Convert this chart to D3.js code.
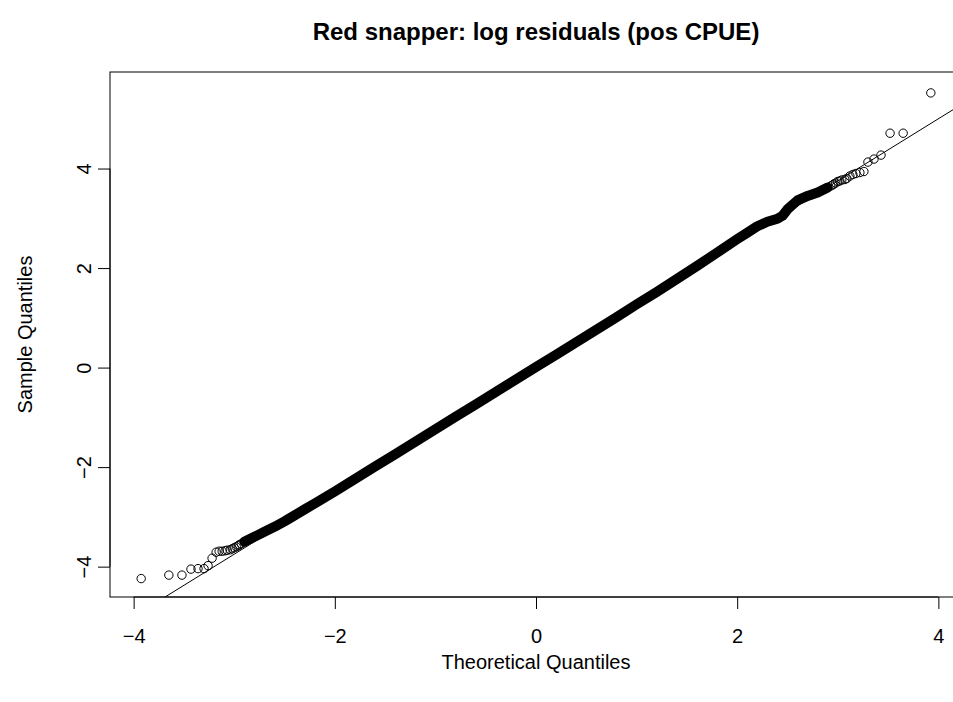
<!DOCTYPE html>
<html>
<head>
<meta charset="utf-8">
<title>Red snapper QQ plot</title>
<style>
    body { margin: 0; background: #fff; }
    svg { font-family: "Liberation Sans", Arial, sans-serif; display: block; }
    .tick-label { font-size: 20px; }
    .axis-title { font-size: 20px; }
    .main-title { font-size: 24px; font-weight: bold; }
</style>
</head>
<body>
<div id="chart"></div>
<script src="https://d3js.org/d3.v7.min.js"></script>
<script>
    // theoretical quantiles of the separated tail points, outermost first
    var tailQ = [3.925, 3.65, 3.52, 3.43, 3.36, 3.30, 3.26, 3.22, 3.18, 3.15,
                 3.12, 3.09, 3.07, 3.04, 3.02, 3.00, 2.98, 2.96, 2.95, 2.93];
    // sample quantiles
    var lowTail = [-4.24, -4.17, -4.17, -4.05, -4.04, -4.04, -3.98, -3.83, -3.71, -3.69,
                   -3.69, -3.68, -3.67, -3.66, -3.64, -3.62, -3.60, -3.58, -3.56, -3.54];
    var highTail = [5.52, 4.71, 4.71, 4.27, 4.19, 4.13, 3.94, 3.92, 3.90, 3.88,
                    3.85, 3.80, 3.78, 3.77, 3.75, 3.74, 3.71, 3.69, 3.67, 3.65];

    // dense middle of the plot, where the circles merge into one band
    var bodyQ = [-2.9, -2.8, -2.7, -2.6, -2.5, -2.4, -2.3, -2.2, -2.1, -2.0,
                 -1.8, -1.6, -1.4, -1.2, -1.0, -0.8, -0.6, -0.4, -0.2, 0,
                 0.2, 0.4, 0.6, 0.8, 1.0, 1.2, 1.4, 1.6, 1.8, 2.0,
                 2.1, 2.2, 2.3, 2.4, 2.45, 2.5, 2.6, 2.7, 2.8, 2.9];
    var bodyS = [-3.50, -3.40, -3.30, -3.20, -3.09, -2.97, -2.85, -2.73, -2.61, -2.49,
                 -2.24, -1.99, -1.74, -1.49, -1.24, -0.99, -0.74, -0.49, -0.24, 0.01,
                 0.26, 0.51, 0.76, 1.01, 1.27, 1.52, 1.78, 2.04, 2.31, 2.58,
                 2.71, 2.84, 2.93, 2.99, 3.05, 3.18, 3.36, 3.45, 3.52, 3.62];

    var xTicks = [-4, -2, 0, 2, 4];
    var yTicks = [-4, -2, 0, 2, 4];
    var qqIntercept = 0.0, qqSlope = 1.25;

    var W = 953, H = 702;
    var box = { left: 110, right: 962, top: 72, bottom: 597 };

    var svg = d3.select("#chart").append("svg")
        .attr("width", W)
        .attr("height", H);

    var x = d3.scaleLinear().domain([-4.235, 4.235]).range([box.left, box.right]);
    var y = d3.scaleLinear().domain([-4.61, 5.94]).range([box.bottom, box.top]);

    svg.append("clipPath").attr("id", "plot-clip")
        .append("rect")
        .attr("x", box.left).attr("y", box.top)
        .attr("width", box.right - box.left).attr("height", box.bottom - box.top);

    var plot = svg.append("g").attr("clip-path", "url(#plot-clip)");

    // qqline
    var xd = x.domain();
    plot.append("line")
        .attr("x1", x(xd[0])).attr("y1", y(qqIntercept + qqSlope * xd[0]))
        .attr("x2", x(xd[1])).attr("y2", y(qqIntercept + qqSlope * xd[1]))
        .attr("stroke", "#000").attr("stroke-width", 1);

    // the merged band of circles
    var band = bodyQ.map(function (q, i) { return [q, bodyS[i]]; });
    plot.append("path")
        .datum(band)
        .attr("d", d3.line().x(function (d) { return x(d[0]); }).y(function (d) { return y(d[1]); }))
        .attr("fill", "none")
        .attr("stroke", "#000")
        .attr("stroke-width", 10)
        .attr("stroke-linecap", "round")
        .attr("stroke-linejoin", "round");

    // separate tail points
    var pts = [];
    tailQ.forEach(function (q, i) {
        pts.push([-q, lowTail[i]]);
        pts.push([q, highTail[i]]);
    });
    plot.selectAll("circle.pt")
        .data(pts)
        .enter().append("circle")
        .attr("class", "pt")
        .attr("cx", function (d) { return x(d[0]); })
        .attr("cy", function (d) { return y(d[1]); })
        .attr("r", 4.2)
        .attr("fill", "none")
        .attr("stroke", "#000")
        .attr("stroke-width", 1);

    // box
    svg.append("rect")
        .attr("x", box.left).attr("y", box.top)
        .attr("width", box.right - box.left).attr("height", box.bottom - box.top)
        .attr("fill", "none").attr("stroke", "#000").attr("stroke-width", 1);

    function fmt(v) { return v < 0 ? "\u2212" + Math.abs(v) : String(v); }

    // x axis
    var xAxis = svg.append("g")
        .attr("transform", "translate(0," + box.bottom + ")")
        .call(d3.axisBottom(x).tickValues(xTicks).tickSize(12).tickPadding(20).tickFormat(fmt));
    xAxis.select(".domain").attr("d", "M" + x(xTicks[0]) + ",0H" + x(xTicks[xTicks.length - 1]));
    xAxis.attr("font-size", null).attr("font-family", null);
    xAxis.selectAll(".tick text").attr("class", "tick-label");

    // y axis
    var yAxis = svg.append("g")
        .attr("transform", "translate(" + box.left + ",0)")
        .call(d3.axisLeft(y).tickValues(yTicks).tickSize(12).tickFormat(fmt));
    yAxis.select(".domain").attr("d", "M0," + y(yTicks[0]) + "V" + y(yTicks[yTicks.length - 1]));
    yAxis.attr("font-size", null).attr("font-family", null);
    yAxis.selectAll(".tick text")
        .attr("class", "tick-label")
        .attr("x", null).attr("dy", null)
        .attr("text-anchor", "middle")
        .attr("dominant-baseline", "central")
        .attr("transform", "translate(-26,0) rotate(-90)");

    // titles
    svg.append("text")
        .attr("class", "main-title")
        .attr("x", (box.left + box.right) / 2).attr("y", 40)
        .attr("text-anchor", "middle")
        .text("Red snapper: log residuals (pos CPUE)");

    svg.append("text")
        .attr("class", "axis-title")
        .attr("x", (box.left + box.right) / 2).attr("y", 669)
        .attr("text-anchor", "middle")
        .text("Theoretical Quantiles");

    svg.append("text")
        .attr("class", "axis-title")
        .attr("transform", "translate(25," + (box.top + box.bottom) / 2 + ") rotate(-90)")
        .attr("text-anchor", "middle")
        .attr("dominant-baseline", "central")
        .text("Sample Quantiles");
</script>
</body>
</html>
